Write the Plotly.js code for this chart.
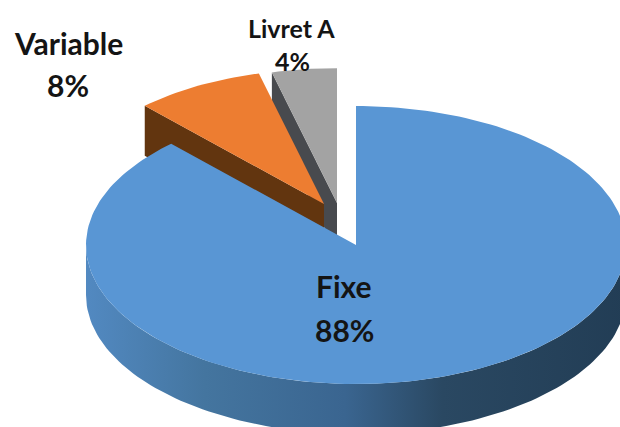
<!DOCTYPE html>
<html>
<head>
<meta charset="utf-8">
<script src="https://cdn.plot.ly/plotly-3.0.1.min.js"></script>
<style>html,body{margin:0;padding:0;background:#fff}</style>
</head>
<body>
<div id="chart" style="width:620px;height:427px"></div>
<script>
// Loan rate split
const labels = ['Fixe', 'Variable', 'Livret A'];
const shares = [88, 8, 4];
const topColors = ['#5996d4', '#ed7d31', '#a3a3a3'];
const wallColors = ['#3f6f9a', '#62350f', '#484a4e'];

// Projection of the tilted pie in pixels; slices further back are drawn a little smaller
const RX = 270, RY = 139, DEPTH = 50;
const centres = [[356, 245], [324, 204], [337, 203]];
const scales = [1, 0.97, 0.97];

const rad = d => d * Math.PI / 180;
const px = (i, t) => centres[i][0] + scales[i] * RX * Math.sin(rad(t));
const py = (i, t) => centres[i][1] - scales[i] * RY * Math.cos(rad(t));

function arc(i, from, to, dy) {
  const xs = [], ys = [], n = Math.max(2, Math.ceil(Math.abs(to - from) / 1.5));
  for (let k = 0; k <= n; k++) {
    const t = from + (to - from) * k / n;
    xs.push(px(i, t));
    ys.push(py(i, t) + dy);
  }
  return [xs, ys];
}

function poly(xs, ys, color, gradient) {
  const tr = {x: xs, y: ys, mode: 'lines', fill: 'toself', fillcolor: color,
              line: {width: 0}, hoverinfo: 'skip', showlegend: false};
  if (gradient) tr.fillgradient = gradient;
  return tr;
}

// Start and end angles of each slice, clockwise from twelve o'clock
const total = shares.reduce((a, b) => a + b, 0);
const spans = [];
let run = 0;
shares.forEach(v => {
  spans.push([run / total * 360, (run + v) / total * 360]);
  run += v;
});

const traces = [];

// Exploded back slices: cut wall first, then the top face
[2, 1].forEach(i => {
  const c = centres[i], a = spans[i][0], b = spans[i][1];
  traces.push(poly(
    [px(i, a), c[0], c[0], px(i, a)],
    [py(i, a), c[1], c[1] + DEPTH, py(i, a) + DEPTH],
    wallColors[i]));
  const rim = arc(i, a, b, 0);
  traces.push(poly([c[0], ...rim[0], c[0]], [c[1], ...rim[1], c[1]], topColors[i]));
});

// Main slice: shaded front wall under the top face
{
  const c = centres[0];
  const upper = arc(0, 90, 270, 0), lower = arc(0, 270, 90, DEPTH);
  traces.push(poly([...upper[0], ...lower[0]], [...upper[1], ...lower[1]], wallColors[0], {
    type: 'horizontal',
    colorscale: [[0, '#5289c1'], [0.22, '#44759f'], [0.48, '#3a6590'], [0.66, '#2a4862'], [1, '#223d55']]
  }));
  const rim = arc(0, spans[0][0], spans[0][1], 0);
  traces.push(poly([c[0], ...rim[0], c[0]], [c[1], ...rim[1], c[1]], topColors[0]));
}

// Slice captions: name on one line, share on the next
const caption = (text, x, y, size) => ({
  text: '<b>' + text + '</b>', x, y, xref: 'x', yref: 'y', showarrow: false,
  xanchor: 'center', yanchor: 'middle',
  font: {family: 'Lato, Carlito, sans-serif', size, color: '#141414'}
});
const annotations = [
  caption(labels[0], 344, 286, 30), caption(shares[0] + '%', 344, 330, 30),
  caption(labels[1], 68, 43, 30), caption(shares[1] + '%', 68, 85, 30),
  caption(labels[2], 291, 28, 25), caption(shares[2] + '%', 292, 61, 25)
];

const hidden = {visible: false, fixedrange: true};
Plotly.newPlot('chart', traces, {
  width: 620, height: 427,
  margin: {l: 0, r: 0, t: 0, b: 0},
  paper_bgcolor: '#fff', plot_bgcolor: '#fff',
  xaxis: {...hidden, range: [0, 620]},
  yaxis: {...hidden, range: [427, 0]},
  annotations, showlegend: false
}, {displayModeBar: false, staticPlot: true});
</script>
</body>
</html>
